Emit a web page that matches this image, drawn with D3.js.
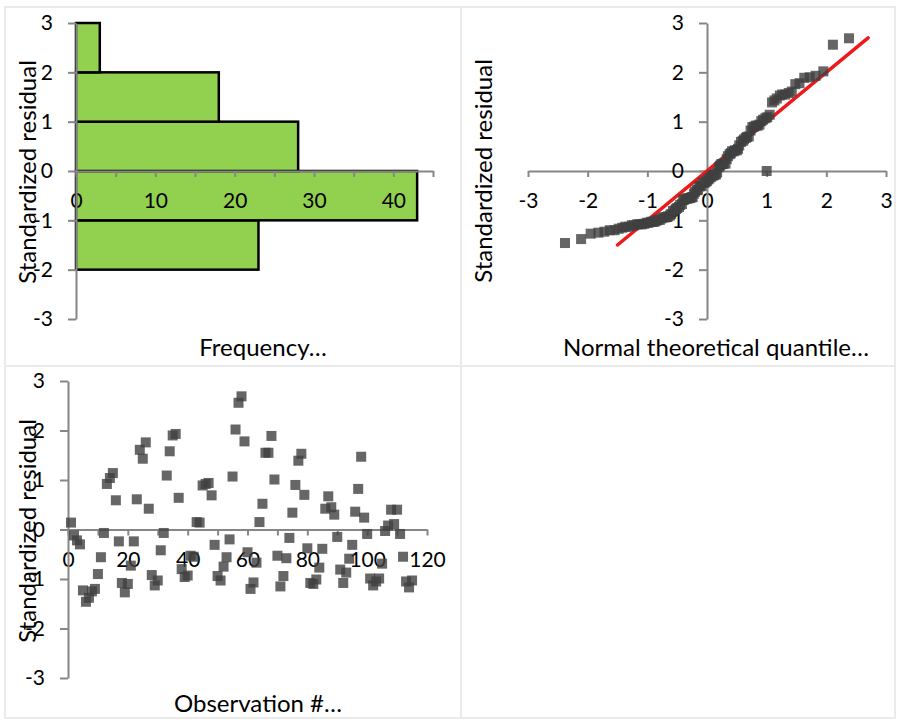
<!DOCTYPE html>
<html>
<head>
<meta charset="utf-8">
<script src="https://cdn.jsdelivr.net/npm/d3@7"></script>
<style>
  html, body { margin: 0; padding: 0; background: #fff; }
  svg text { font-family: Lato, "Open Sans", sans-serif; }
</style>
</head>
<body>
<div id="chart"></div>
<script>

// histogram of standardized residuals (lower bin edge -> frequency)
var binStarts = [-2, -1, 0, 1, 2];
var binCounts = [23, 43, 28, 18, 3];

// standardized residual per observation (obs # 1..115)
var residuals = [
  0.14, -0.12, -0.22, -0.30, -1.23, -1.46, -1.38, -1.25, -1.20, -0.90,
  -0.56, -0.07, 0.92, 1.04, 1.14, 0.59, -0.24, -1.08, -1.27, -1.10,
  -0.73, -0.24, 0.61, 1.61, 1.43, 1.76, 0.42, -0.92, -1.13, -1.03,
  -0.42, -0.07, 1.09, 1.58, 1.90, 1.93, 0.64, -0.80, -0.96, -0.93,
  -0.53, -0.55, 0.15, 0.14, 0.89, 0.92, 0.94, 0.69, -0.31, -0.94,
  -1.03, -0.75, -0.56, -0.20, 1.07, 2.02, 2.56, 2.69, 1.78, -0.46,
  -1.20, -1.07, -0.67, 0.15, 0.52, 1.55, 1.55, 1.89, 1.01, -0.53,
  -1.15, -0.94, -0.58, -0.17, 0.34, 0.90, 1.39, 1.53, 0.70, -0.38,
  -1.08, -1.10, -1.01, -0.77, -0.39, 0.42, 0.67, 0.45, 0.30, -0.15,
  -0.81, -1.08, -0.87, -0.59, -0.31, 0.36, 0.82, 1.47, 0.24, -0.09,
  -0.99, -1.13, -1.05, -0.99, -0.69, -0.03, 0.08, 0.40, 0.11, 0.40,
  -0.09, -0.55, -1.05, -1.17, -1.03
];

// normal theoretical quantiles for the sorted residuals
var quantiles = [
  -2.38, -2.11, -1.95, -1.82, -1.72, -1.63, -1.55, -1.48, -1.42, -1.37,
  -1.31, -1.26, -1.22, -1.17, -1.13, -1.09, -1.05, -1.01, -0.98, -0.94,
  -0.91, -0.88, -0.85, -0.82, -0.79, -0.76, -0.73, -0.70, -0.67, -0.65,
  -0.62, -0.60, -0.57, -0.54, -0.52, -0.50, -0.47, -0.45, -0.42, -0.40,
  -0.38, -0.35, -0.33, -0.31, -0.28, -0.26, -0.24, -0.22, -0.20, -0.17,
  -0.15, -0.13, -0.11, -0.09, -0.07, -0.04, -0.02, 0.00, 0.02, 0.04,
  0.07, 0.09, 0.11, 0.13, 0.15, 0.17, 0.20, 0.22, 0.24, 0.26,
  0.28, 0.31, 0.33, 0.35, 0.38, 0.40, 0.42, 0.45, 0.47, 0.50,
  0.52, 0.54, 0.57, 0.60, 0.62, 0.65, 0.67, 0.70, 0.73, 0.76,
  0.79, 0.82, 0.85, 0.88, 0.91, 0.94, 0.98, 1.01, 1.05, 1.09,
  1.13, 1.17, 1.22, 1.26, 1.31, 1.37, 1.42, 1.48, 1.55, 1.63,
  1.72, 1.82, 1.95, 2.11, 2.38
];

// stray point on the Q-Q plot and the reference line y = x
var qqStray = [[1, 0]];
var refLine = [-1.5, 2.7];

var residTicks = [-3, -2, -1, 0, 1, 2, 3];
var freqTicks = [0, 5, 10, 15, 20, 25, 30, 35, 40, 45];
var qTicks = [-3, -2, -1, 0, 1, 2, 3];
var obsTicks = [0, 10, 20, 30, 40, 50, 60, 70, 80, 90, 100, 110, 120];

var W = 897, H = 720;
var axisGrey = '#868686';

var svg = d3.select('#chart').append('svg')
    .attr('width', W)
    .attr('height', H);

// panel frames
var frame = svg.append('g')
    .attr('fill', 'none')
    .attr('stroke', '#ebebeb')
    .attr('stroke-width', 2);
frame.append('rect').attr('x', 5).attr('y', 7).attr('width', 890).attr('height', 711);
frame.append('line').attr('x1', 461).attr('x2', 461).attr('y1', 7).attr('y2', 718);
frame.append('line').attr('x1', 5).attr('x2', 895).attr('y1', 366).attr('y2', 366);

function styleAxis(g) {
  g.select('.domain').attr('stroke', axisGrey).attr('stroke-width', 2);
  g.selectAll('.tick line').attr('stroke', axisGrey).attr('stroke-width', 2);
  g.selectAll('.tick text')
    .attr('fill', '#000')
    .style('font-size', '21px')
    .style('font-family', 'Lato, sans-serif');
}

function plain(d) { return String(d); }

function yTitle(x, y) {
  svg.append('text')
    .attr('transform', 'translate(' + x + ',' + y + ') rotate(-90)')
    .attr('text-anchor', 'middle')
    .style('font-size', '24px')
    .attr('fill', '#000')
    .text('Standardized residual');
}

function xTitle(x, y, label) {
  svg.append('text')
    .attr('x', x)
    .attr('y', y)
    .attr('text-anchor', 'middle')
    .style('font-size', '24px')
    .attr('fill', '#000')
    .text(label);
}

// ---------- histogram (top left) ----------
var yTop = d3.scaleLinear().domain([-3, 3]).range([319, 23]);
var xFreq = d3.scaleLinear().domain([0, 45]).range([76, 433]);

svg.append('g').selectAll('rect')
  .data(binStarts)
  .enter()
  .append('rect')
    .attr('x', xFreq(0))
    .attr('y', function(d) { return yTop(d + 1); })
    .attr('width', function(d, i) { return xFreq(binCounts[i]) - xFreq(0); })
    .attr('height', function(d) { return yTop(d) - yTop(d + 1); })
    .attr('fill', '#92d050')
    .attr('stroke', '#000')
    .attr('stroke-width', 2.5);

svg.append('g')
  .attr('transform', 'translate(0,' + yTop(0) + ')')
  .call(d3.axisBottom(xFreq).tickValues(freqTicks).tickSize(6).tickSizeOuter(0).tickPadding(16)
    .tickFormat(function(d) { return d % 10 === 0 ? plain(d) : ''; }))
  .call(styleAxis);

svg.append('g')
  .attr('transform', 'translate(' + xFreq(0) + ',0)')
  .call(d3.axisLeft(yTop).tickValues(residTicks).tickSize(8).tickSizeOuter(0).tickPadding(15).tickFormat(plain))
  .call(styleAxis);

yTitle(36, 172);
xTitle(263, 356, 'Frequency…');

// ---------- normal Q-Q plot (top right) ----------
var xQ = d3.scaleLinear().domain([-3, 3]).range([528, 886]);

svg.append('g')
  .attr('transform', 'translate(0,' + yTop(0) + ')')
  .call(d3.axisBottom(xQ).tickValues(qTicks).tickSize(6).tickSizeOuter(0).tickPadding(16).tickFormat(plain))
  .call(styleAxis);

svg.append('g')
  .attr('transform', 'translate(' + xQ(0) + ',0)')
  .call(d3.axisLeft(yTop).tickValues(residTicks).tickSize(8).tickSizeOuter(0).tickPadding(15).tickFormat(plain))
  .call(styleAxis);

svg.append('line')
  .attr('x1', xQ(refLine[0])).attr('y1', yTop(refLine[0]))
  .attr('x2', xQ(refLine[1])).attr('y2', yTop(refLine[1]))
  .attr('stroke', '#ee1a1a')
  .attr('stroke-width', 3.5)
  .attr('stroke-linecap', 'round');

var sorted = residuals.slice().sort(d3.ascending);
var qqPoints = quantiles.map(function(q, i) { return [q, sorted[i]]; }).concat(qqStray);

var sq = 10;
svg.append('g').selectAll('rect')
  .data(qqPoints)
  .enter()
  .append('rect')
    .attr('x', function(d) { return xQ(d[0]) - sq / 2; })
    .attr('y', function(d) { return yTop(d[1]) - sq / 2; })
    .attr('width', sq)
    .attr('height', sq)
    .attr('fill', '#404040')
    .attr('fill-opacity', 0.8);

yTitle(492, 171);
xTitle(716, 356, 'Normal theoretical quantile…');

// ---------- residuals by observation (bottom left) ----------
var yBot = d3.scaleLinear().domain([-3, 3]).range([678, 381]);
var xObs = d3.scaleLinear().domain([0, 120]).range([68, 427]);

svg.append('g')
  .attr('transform', 'translate(0,' + yBot(0) + ')')
  .call(d3.axisBottom(xObs).tickValues(obsTicks).tickSize(6).tickSizeOuter(0).tickPadding(17)
    .tickFormat(function(d) { return d % 20 === 0 ? plain(d) : ''; }))
  .call(styleAxis);

svg.append('g')
  .attr('transform', 'translate(' + xObs(0) + ',0)')
  .call(d3.axisLeft(yBot).tickValues(residTicks).tickSize(8).tickSizeOuter(0).tickPadding(15).tickFormat(plain))
  .call(styleAxis);

yTitle(36, 531);
xTitle(258, 712, 'Observation #…');

svg.append('g').selectAll('rect')
  .data(residuals)
  .enter()
  .append('rect')
    .attr('x', function(d, i) { return xObs(i + 1) - sq / 2; })
    .attr('y', function(d) { return yBot(d) - sq / 2; })
    .attr('width', sq)
    .attr('height', sq)
    .attr('fill', '#404040')
    .attr('fill-opacity', 0.8);

</script>
</body>
</html>
